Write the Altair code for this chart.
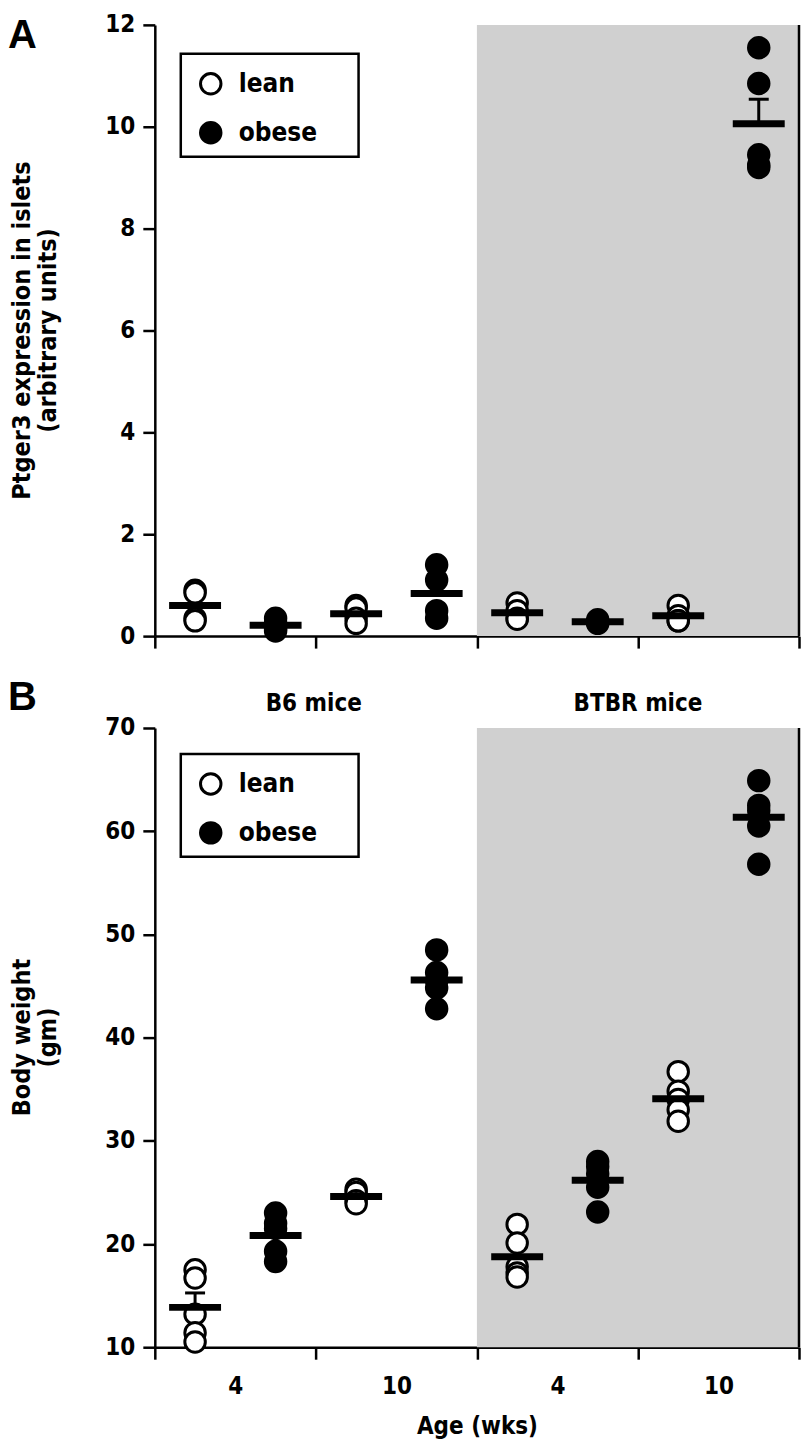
import json
import altair as alt
import pandas as pd

# ---------------- data ----------------
strains = ["B6", "B6", "B6", "B6", "BTBR", "BTBR", "BTBR", "BTBR"]
ages = [4, 4, 10, 10, 4, 4, 10, 10]
phenotypes = ["lean", "obese", "lean", "obese", "lean", "obese", "lean", "obese"]

ptger3 = [
    [0.90, 0.85, 0.35, 0.30],
    [0.35, 0.25, 0.15, 0.10],
    [0.60, 0.55, 0.35, 0.25],
    [1.40, 1.10, 0.50, 0.35],
    [0.65, 0.50, 0.35, 0.33],
    [0.32, 0.28, 0.25, 0.27],
    [0.60, 0.40, 0.30, 0.30],
    [11.55, 10.85, 9.45, 9.25, 9.20],
]
body_weight = [
    [17.5, 16.7, 13.2, 11.4, 10.5],
    [23.0, 22.0, 21.5, 19.3, 18.3],
    [25.3, 25.0, 24.2, 23.9],
    [48.5, 46.3, 45.5, 44.8, 42.8],
    [21.9, 20.1, 17.8, 17.2, 16.8],
    [28.0, 27.5, 26.8, 25.5, 23.1],
    [36.7, 34.8, 34.0, 33.0, 31.9],
    [64.9, 62.5, 62.0, 60.5, 56.8],
]
ptger3_ticks = [0, 2, 4, 6, 8, 10, 12]
weight_ticks = [10, 20, 30, 40, 50, 60, 70]
legend_labels = ["lean", "obese"]
ptger3_title = ["Ptger3 expression in islets", "(arbitrary units)"]
weight_title = ["Body weight", "(gm)"]
age_title = "Age (wks)"

# ---------------- styling ----------------
NARROW = "DejaVu Sans Condensed, Liberation Sans Narrow, Arial Narrow, Liberation Sans, sans-serif"
WIDE = "Liberation Sans, Arial, Helvetica, sans-serif"
SHADE = "#d0d0d0"
W = 645
LEFT = 147
LW = 2.5
FS = 24
BOX_W, BOX_H = 178, 103


def build_panel(values, yticks, ytitle, letter, height, with_labels, with_headers,
                letter_y, legend_y):
    n = len(strains)
    rows = []
    for i, vals in enumerate(values):
        for v in vals:
            rows.append(dict(slot=i + 0.5, strain=strains[i], age=ages[i],
                             phenotype=phenotypes[i], value=v))
    df = pd.DataFrame(rows)
    ymin, ymax = yticks[0], yticks[-1]

    xs = alt.Scale(domain=[0, n], nice=False, zero=False)
    ys = alt.Scale(domain=[ymin, ymax], nice=False, zero=False)

    tick_op = alt.condition("datum.value % 2 == 0", alt.value(1), alt.value(0))
    if with_labels:
        slot_labels = [""] * (n + 1)
        for k in range(1, n, 2):
            slot_labels[k] = str(ages[k])
        xaxis = alt.Axis(values=list(range(n + 1)), tickOpacity=tick_op,
                         labelExpr=json.dumps(slot_labels) + "[datum.value]",
                         labelPadding=15, title=age_title, titlePadding=16,
                         labelAngle=0)
    else:
        xaxis = alt.Axis(values=list(range(n + 1)), tickOpacity=tick_op,
                         labels=False, title=None)
    yaxis = alt.Axis(values=yticks, format="d", title=None, labelPadding=8)

    def X(field):
        return alt.X(field, scale=xs, axis=xaxis)

    def Y(field):
        return alt.Y(field, scale=ys, axis=yaxis)

    base = alt.Chart(df)

    shade = base.transform_filter(
        alt.datum.strain == strains[-1]
    ).transform_aggregate(
        lo="min(slot)", hi="max(slot)"
    ).transform_calculate(
        lo="datum.lo - 0.5", hi="datum.hi + 0.5"
    ).mark_rect(color=SHADE).encode(
        x=X("lo:Q"), x2="hi:Q",
        y=alt.YDatum(ymax, scale=ys, axis=yaxis), y2=alt.datum(ymin),
    )

    edge = alt.Chart(pd.DataFrame({"edge": [n]})).mark_rule(
        color="black", strokeWidth=LW
    ).encode(
        x=X("edge:Q"), y=alt.YDatum(ymin, scale=ys, axis=yaxis), y2=alt.datum(ymax)
    )

    stats = base.transform_aggregate(
        mean="mean(value)", sem="stderr(value)", groupby=["slot"]
    ).transform_calculate(hi="datum.mean + datum.sem")

    err = stats.mark_rule(color="black", strokeWidth=3).encode(
        x=X("slot:Q"), y=Y("mean:Q"), y2="hi:Q"
    )
    cap = stats.mark_tick(orient="horizontal", size=20, thickness=3,
                          color="black", opacity=1).encode(
        x=X("slot:Q"), y=Y("hi:Q")
    )

    # legend frame (white box with black border) behind the legend entries
    frame = alt.Chart(pd.DataFrame({"k": [0]})).mark_rect(
        fill="white", stroke="black", strokeWidth=LW
    ).encode(
        x=alt.value(26), x2=alt.value(26 + BOX_W),
        y=alt.value(legend_y), y2=alt.value(legend_y + BOX_H)
    )

    points = base.mark_point(shape="circle", filled=True, size=420, stroke="black",
                             strokeWidth=3, opacity=1).encode(
        x=X("slot:Q"), y=Y("value:Q"),
        fill=alt.Fill("phenotype:N",
                      scale=alt.Scale(domain=legend_labels, range=["white", "black"]),
                      legend=alt.Legend(orient="none", legendX=31, legendY=legend_y + 5,
                                        title=None, symbolType="circle", symbolSize=420,
                                        symbolStrokeColor="black", symbolStrokeWidth=3,
                                        labelFont=NARROW, labelFontSize=26,
                                        labelFontWeight="bold", labelColor="black",
                                        labelOffset=15, padding=12, rowPadding=15,
                                        zindex=1)),
    )

    mean = stats.mark_tick(orient="horizontal", size=52, thickness=7,
                           color="black", opacity=1).encode(
        x=X("slot:Q"), y=Y("mean:Q")
    )

    layers = [shade, edge, err, cap, points, mean, frame]

    if with_headers:
        headers = base.transform_aggregate(
            center="mean(slot)", groupby=["strain"]
        ).transform_calculate(
            label="datum.strain + ' mice'"
        ).mark_text(font=NARROW, fontSize=FS, fontWeight="bold", color="black",
                    baseline="middle").encode(
            x=X("center:Q"), y=alt.value(-24), text="label:N"
        )
        layers.append(headers)

    # two-line y-axis title, one text per line
    for i, line in enumerate(ytitle):
        layers.append(
            alt.Chart(pd.DataFrame({"t": [line]})).mark_text(
                font=NARROW, fontSize=25, fontWeight="bold", color="black",
                angle=270, align="center", baseline="middle"
            ).encode(x=alt.value(-LEFT + 14 + 26 * i), y=alt.value(height / 2),
                     text="t:N")
        )

    letter_mark = alt.Chart(pd.DataFrame({"letter": [letter]})).mark_text(
        font=WIDE, fontSize=40, fontWeight="bold", color="black",
        align="left", baseline="top"
    ).encode(x=alt.value(-LEFT), y=alt.value(letter_y), text="letter:N")
    layers.append(letter_mark)

    return alt.layer(*layers).properties(width=W, height=height)


panel_a = build_panel(ptger3, ptger3_ticks, ptger3_title, "A", 612,
                      with_labels=False, with_headers=False, letter_y=-8.6, legend_y=29)
panel_b = build_panel(body_weight, weight_ticks, weight_title, "B", 620,
                      with_labels=True, with_headers=True, letter_y=-50, legend_y=26)

chart = alt.vconcat(panel_a, panel_b, spacing=92, bounds="flush").resolve_scale(
    fill="independent"
).resolve_legend(
    fill="independent"
).properties(
    padding={"left": 0, "top": 4, "right": 0, "bottom": 0}, background="white"
).configure_view(
    stroke=None
).configure_axis(
    domainColor="black", domainWidth=LW, tickColor="black", tickWidth=LW,
    tickSize=12, grid=False,
    labelFont=NARROW, labelFontSize=FS, labelFontWeight="bold", labelColor="black",
    titleFont=NARROW, titleFontSize=FS, titleFontWeight="bold", titleColor="black",
)

chart.save("out.html", embed_options={"renderer": "svg", "actions": False})
